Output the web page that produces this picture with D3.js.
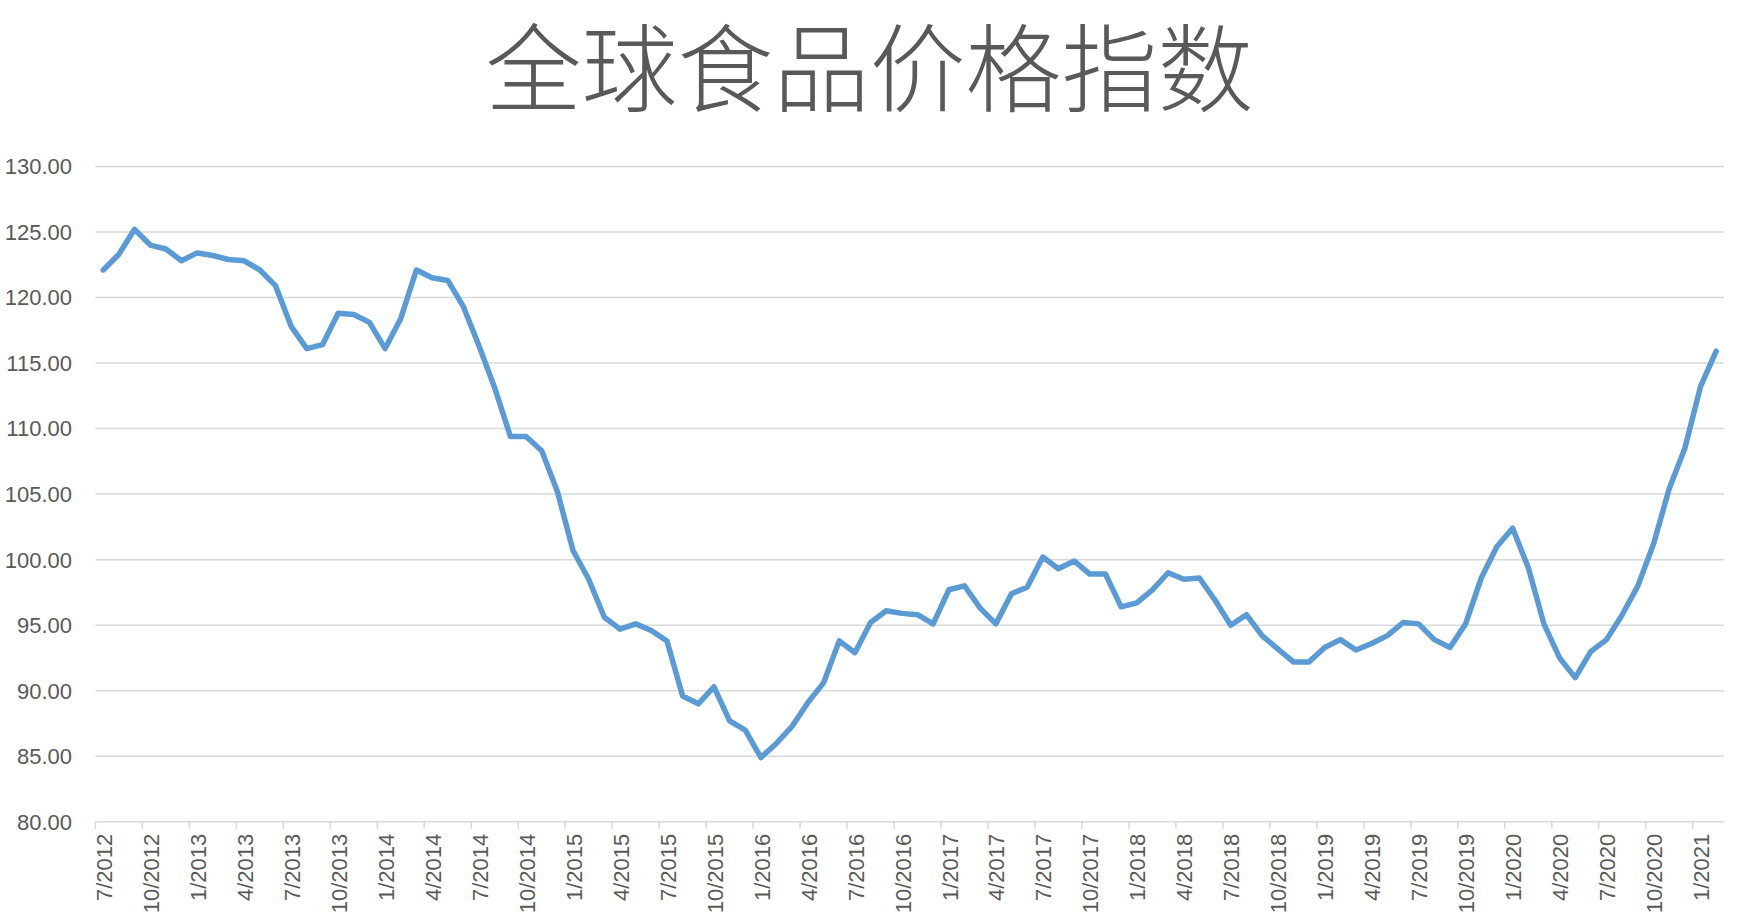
<!DOCTYPE html>
<html>
<head>
<meta charset="utf-8">
<script src="https://cdn.jsdelivr.net/npm/d3@7"></script>
<style>
  body { margin: 0; background: #fff; }
  svg { display: block; }
</style>
</head>
<body>
<div class="chart"></div>
<script>
// monthly index, 7/2012 .. 2/2021
var startYear = 2012, startMonth = 7;
var values = [
  122.1, 123.3, 125.2, 124.0, 123.7, 122.8,
  123.4, 123.2, 122.9, 122.8, 122.1, 120.9, 117.8, 116.1, 116.4, 118.8, 118.7, 118.1,
  116.1, 118.4, 122.1, 121.5, 121.3, 119.3, 116.3, 113.1, 109.4, 109.4, 108.3, 105.2,
  100.7, 98.5, 95.6, 94.7, 95.1, 94.6, 93.8, 89.6, 89.0, 90.3, 87.7, 87.0,
  84.9, 86.0, 87.3, 89.1, 90.6, 93.8, 92.9, 95.2, 96.1, 95.9, 95.8, 95.1,
  97.7, 98.0, 96.3, 95.1, 97.4, 97.9, 100.2, 99.3, 99.9, 98.9, 98.9, 96.4,
  96.7, 97.7, 99.0, 98.5, 98.6, 96.9, 95.0, 95.8, 94.2, 93.2, 92.2, 92.2,
  93.3, 93.9, 93.1, 93.6, 94.2, 95.2, 95.1, 93.9, 93.3, 95.1, 98.6, 101.0,
  102.4, 99.4, 95.1, 92.5, 91.0, 93.0, 93.9, 95.8, 98.0, 101.2, 105.4, 108.5,
  113.2, 115.9
];
var yTicks = [80, 85, 90, 95, 100, 105, 110, 115, 120, 125, 130];
var title = "全球食品价格指数";

var width = 1739, height = 922;
var textColor = "#595959", gridColor = "#d9d9d9", lineColor = "#5b9bd5";
var labelFont = "'Liberation Sans', Arial, sans-serif";

// month labels like 7/2012
var months = values.map(function(v, i) {
  var m = startMonth - 1 + i;
  return (m % 12 + 1) + "/" + (startYear + Math.floor(m / 12));
});
var xTickIdx = d3.range(0, values.length, 3);

var svg = d3.select(".chart").append("svg")
  .attr("width", width)
  .attr("height", height);

svg.append("rect").attr("width", width).attr("height", height).attr("fill", "#fff");

var x = d3.scaleLinear().domain([0, values.length]).range([95.4, 1724]);
var y = d3.scaleLinear().domain([80, 130]).range([821.8, 166.4]);

svg.append("text")
  .attr("x", width / 2)
  .attr("y", 104)
  .attr("text-anchor", "middle")
  .attr("fill", textColor)
  .style("font-family", "'Noto Sans CJK SC', sans-serif")
  .style("font-weight", 300)
  .style("font-size", "96px")
  .text(title);

// horizontal grid
svg.append("g").selectAll("line")
  .data(yTicks)
  .enter().append("line")
  .attr("x1", x(0)).attr("x2", x(values.length))
  .attr("y1", function(d) { return y(d); })
  .attr("y2", function(d) { return y(d); })
  .attr("stroke", gridColor)
  .attr("stroke-width", 1.5);

// y labels
svg.append("g").selectAll("text")
  .data(yTicks)
  .enter().append("text")
  .attr("x", 72)
  .attr("y", function(d) { return y(d); })
  .attr("dy", "0.36em")
  .attr("text-anchor", "end")
  .attr("fill", textColor)
  .style("font-family", labelFont)
  .style("font-size", "22px")
  .text(function(d) { return d.toFixed(2); });

// x ticks
svg.append("g").selectAll("line")
  .data(xTickIdx)
  .enter().append("line")
  .attr("x1", function(d) { return x(d); })
  .attr("x2", function(d) { return x(d); })
  .attr("y1", y(80)).attr("y2", y(80) + 7)
  .attr("stroke", gridColor)
  .attr("stroke-width", 1.5);

svg.append("g").selectAll("text")
  .data(xTickIdx)
  .enter().append("text")
  .attr("transform", function(d) { return "translate(" + x(d) + "," + (y(80) + 12) + ") rotate(-90)"; })
  .attr("dy", "0.75em")
  .attr("text-anchor", "end")
  .attr("fill", textColor)
  .style("font-family", labelFont)
  .style("font-size", "22px")
  .text(function(d) { return months[d]; });

var line = d3.line()
  .x(function(d, i) { return x(i + 0.5); })
  .y(function(d) { return y(d); });

svg.append("path")
  .datum(values)
  .attr("d", line)
  .attr("fill", "none")
  .attr("stroke", lineColor)
  .attr("stroke-width", 5.5)
  .attr("stroke-linejoin", "round")
  .attr("stroke-linecap", "round");
</script>
</body>
</html>
